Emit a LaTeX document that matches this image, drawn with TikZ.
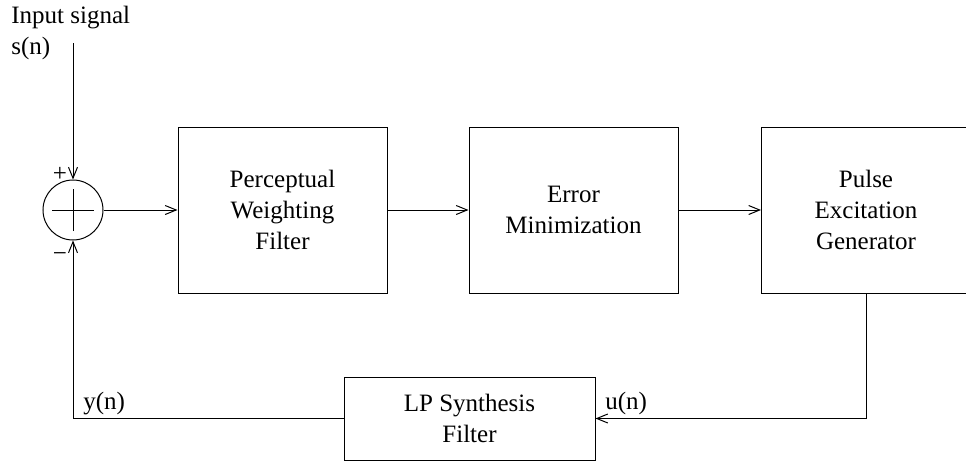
\documentclass[tikz,border=0pt]{standalone}
\usepackage{fontspec}
\setmainfont{Liberation Serif}
\usetikzlibrary{arrows.meta}
\begin{document}
\begin{tikzpicture}[x=0.5pt,y=-0.5pt,
  lbl/.style={font=\fontsize{12.5}{15.5}\selectfont, inner sep=0pt},
  blk/.style={draw, line width=0.5pt, minimum width=104.5pt, minimum height=83pt,
              inner sep=0pt, align=center, font=\fontsize{12.5}{15.5}\selectfont},
  sig/.style={line width=0.5pt, -{Straight Barb[length=5.5pt,width=4.5pt]}},
  wire/.style={line width=0.5pt}]
  \useasboundingbox (0,0) rectangle (966,461);
  \clip (0,0) rectangle (966,461);

  % processing blocks
  \node[blk] (pwf) at (282.5,210) {Perceptual\\Weighting\\Filter};
  \node[blk] (em)  at (573.5,210) {Error\\Minimization};
  \node[blk] (peg) at (866,210)   {Pulse\\Excitation\\Generator};
  \node[blk, minimum width=125.5pt, minimum height=41.5pt] (lps) at (469.5,418.5) {LP Synthesis\\Filter};

  % summing junction
  \node[circle, draw, line width=0.5pt, minimum size=30pt, inner sep=0pt] (sum) at (73,210) {};
  \draw[wire] ([xshift=-10.5pt]sum.center) -- ([xshift=10.5pt]sum.center);
  \draw[wire] ([yshift=-10.5pt]sum.center) -- ([yshift=10.5pt]sum.center);
  \node[lbl] (plus)  at (60,174) {+};
  \node[lbl] (minus) at (60,257) {−};

  % input signal
  \node[lbl, anchor=base west] (insig) at (11,23) {Input signal};
  \node[lbl, anchor=base west] (sn) at (11,54) {s(n)};
  \coordinate (in) at (73,43);
  \draw[sig] (in) -- (sum.north);

  % forward path
  \draw[sig] (sum.east) -- (pwf.west);
  \draw[sig] (pwf.east) -- (em.west);
  \draw[sig] (em.east) -- (peg.west);

  % feedback path
  \draw[sig] (peg.south) |- (lps.east);
  \draw[sig] (lps.west) -| (sum.south);
  \node[lbl, anchor=base west] (un) at (605,409) {u(n)};
  \node[lbl, anchor=base west] (yn) at (83,409) {y(n)};
\end{tikzpicture}
\end{document}
